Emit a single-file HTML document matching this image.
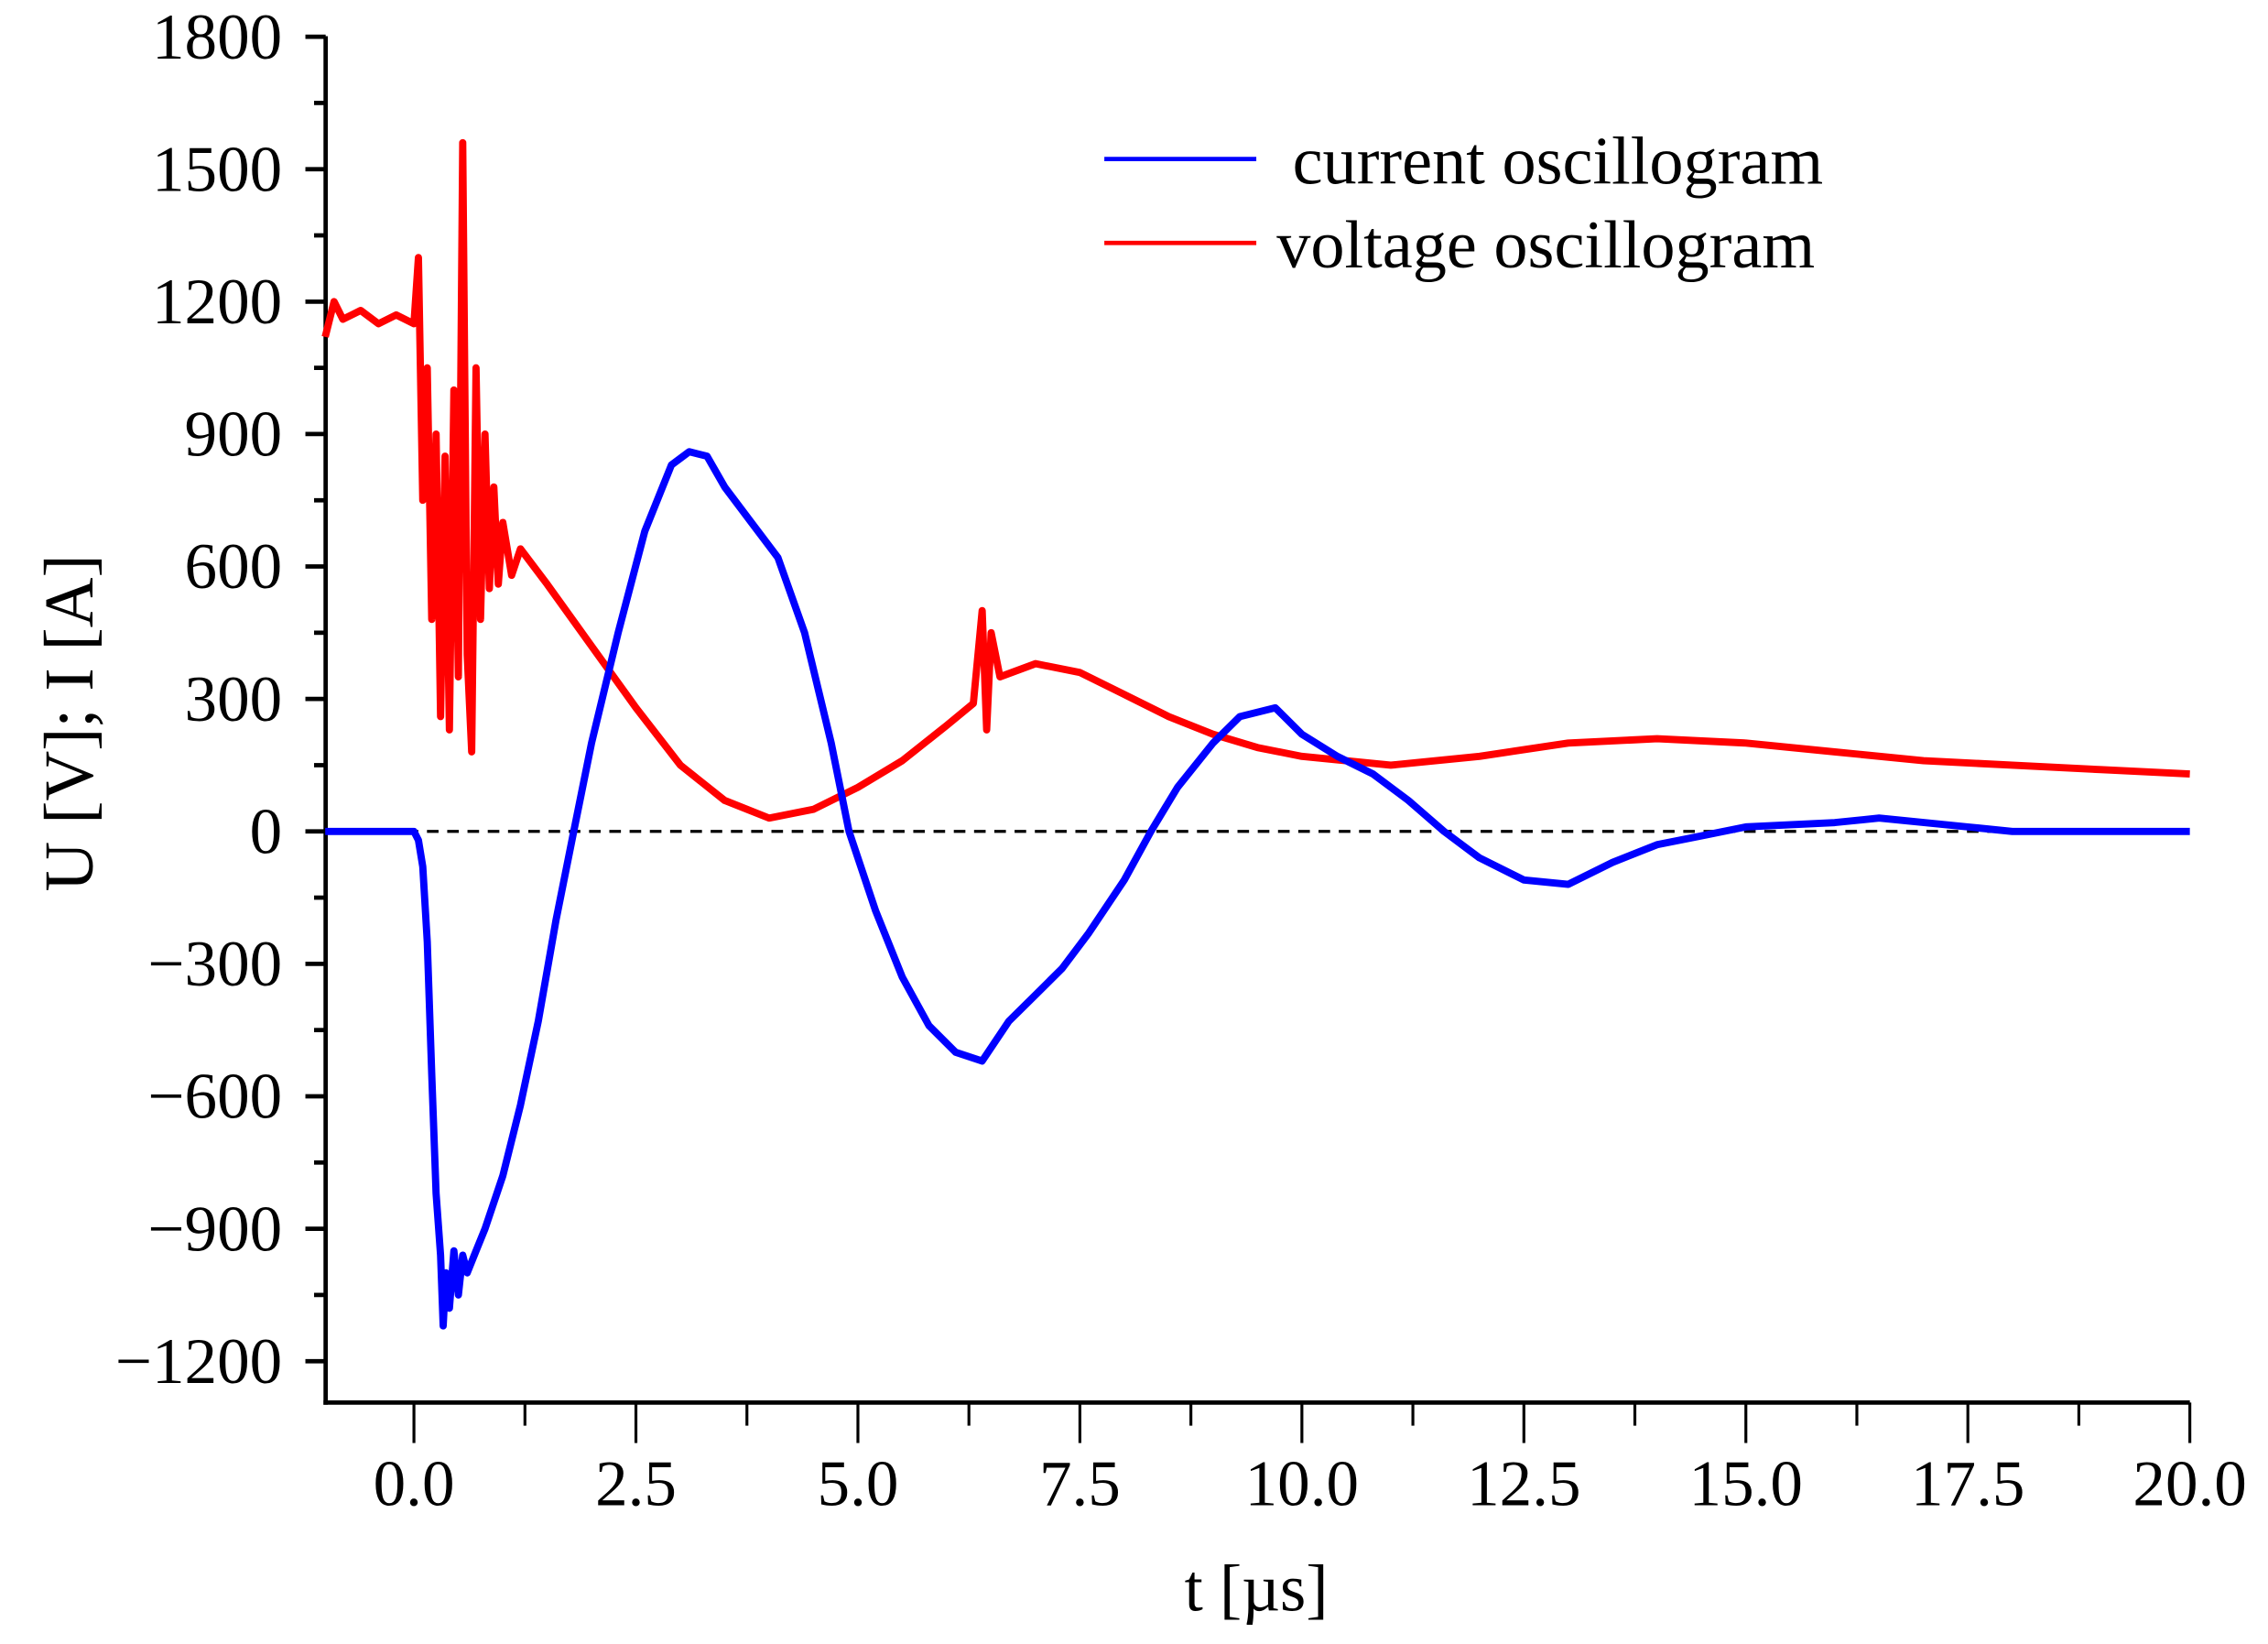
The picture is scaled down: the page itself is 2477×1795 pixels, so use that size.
<!DOCTYPE html>
<html><head><meta charset="utf-8"><style>
html,body{margin:0;padding:0;background:#fff;}
svg{display:block;}
text{font-family:"Liberation Serif",serif;fill:#000;}
</style></head><body>
<svg id="chart" width="2477" height="1795" viewBox="0 0 1567 1137" preserveAspectRatio="none" xmlns="http://www.w3.org/2000/svg">
<g id="axes"></g>
<g id="series"></g>
<g>
<line x1="763" y1="110" x2="868" y2="110" stroke="#0000ff" stroke-width="3"/>
<text x="893" y="127" font-size="47"> current oscillogram</text>
<line x1="763" y1="168" x2="868" y2="168" stroke="#ff0000" stroke-width="3"/>
<text x="882" y="185" font-size="47">voltage oscillogram</text>
</g>
<text x="868" y="1114" font-size="46" text-anchor="middle">t [µs]</text>
<text x="0" y="0" font-size="48" text-anchor="middle" transform="translate(64,500) rotate(-90)">U [V]; I [A]</text>
</svg>
<script>
const xTicks=[0,2.5,5,7.5,10,12.5,15,17.5,20];
const xTickLabels=["0.0","2.5","5.0","7.5","10.0","12.5","15.0","17.5","20.0"];
const yTicks=[-1200,-900,-600,-300,0,300,600,900,1200,1500,1800];
const yTickLabels=["\u22121200","\u2212900","\u2212600","\u2212300","0","300","600","900","1200","1500","1800"];
const currentT=[-1,-0.5,0,0.05,0.1,0.15,0.2,0.25,0.3,0.33,0.36,0.4,0.45,0.5,0.55,0.6,0.7,0.8,1.0,1.2,1.4,1.6,1.8,2.0,2.3,2.6,2.9,3.1,3.3,3.5,3.8,4.1,4.4,4.7,4.9,5.2,5.5,5.8,6.1,6.4,6.7,7.0,7.3,7.6,8.0,8.3,8.6,9.0,9.3,9.7,10.0,10.4,10.8,11.2,11.6,12.0,12.5,13.0,13.5,14.0,14.5,15.0,16.0,16.5,17.5,18,20];
const currentV=[0,0,0,-20,-80,-250,-550,-820,-960,-1120,-1000,-1080,-950,-1050,-960,-1000,-950,-900,-780,-620,-430,-200,0,200,450,680,830,860,850,780,700,620,450,200,0,-180,-330,-440,-500,-520,-430,-370,-310,-230,-110,0,100,200,260,280,220,170,130,70,0,-60,-110,-120,-70,-30,-10,10,20,30,10,0,0];
const voltageT=[-1,-0.9,-0.8,-0.6,-0.4,-0.2,0,0.05,0.1,0.15,0.2,0.25,0.3,0.35,0.4,0.45,0.5,0.55,0.6,0.65,0.7,0.75,0.8,0.85,0.9,0.95,1.0,1.1,1.2,1.5,2.0,2.5,3.0,3.5,4.0,4.5,5.0,5.5,6.0,6.3,6.4,6.45,6.5,6.6,7.0,7.5,8.0,8.5,9.0,9.5,10.0,11.0,12.0,13.0,14.0,15.0,16.0,17.0,18.0,19.0,20.0];
const voltageV=[1120,1200,1160,1180,1150,1170,1150,1300,750,1050,480,900,260,850,230,1000,350,1560,400,180,1050,480,900,550,780,560,700,580,640,560,420,280,150,70,30,50,100,160,240,290,500,230,450,350,380,360,310,260,220,190,170,150,170,200,210,200,180,160,150,140,130];
const NS="http://www.w3.org/2000/svg";
const X0=225,X1=1513,Y0=25,Y1=970;
function xs(t){return 286+(t-0)*(1513-286)/20;}
function ys(v){return 575-v*(941-25)/3000;}
function mk(tag,attrs,parent){const e=document.createElementNS(NS,tag);for(const k in attrs)e.setAttribute(k,attrs[k]);parent.appendChild(e);return e;}
const ax=document.getElementById('axes');
let e;
e=mk('line',{x1:X0,y1:Y0,x2:X0,y2:Y1+1.5,stroke:'#000','stroke-width':3},ax);


e=mk('line',{x1:X0-1.5,y1:Y1,x2:X1,y2:Y1,stroke:'#000','stroke-width':3},ax);


e=mk('line',{x1:X0,y1:ys(0),x2:X1,y2:ys(0),stroke:'#000','stroke-width':2,'stroke-dasharray':'8,6'},ax);


yTicks.forEach((v,i)=>{
  const y=ys(v);
  e=mk('line',{x1:X0-14,y1:y,x2:X0,y2:y,stroke:'#000','stroke-width':3},ax);
  
  
  e=mk('text',{x:X0-30,y:y+15,'font-size':45,'text-anchor':'end'},ax);
  e.textContent=yTickLabels[i];
  
  
  if(i<yTicks.length-1){
    const ym=ys(v+150);
    e=mk('line',{x1:X0-8,y1:ym,x2:X0,y2:ym,stroke:'#000','stroke-width':3},ax);
    
    
  }
});
xTicks.forEach((t,i)=>{
  const x=xs(t);
  e=mk('line',{x1:x,y1:Y1,x2:x,y2:Y1+28,stroke:'#000','stroke-width':2},ax);
  
  
  e=mk('text',{x:x,y:Y1+71,'font-size':45,'text-anchor':'middle'},ax);
  e.textContent=xTickLabels[i];
  
  
  if(i<xTicks.length-1){
    const xm=xs(t+1.25);
    e=mk('line',{x1:xm,y1:Y1,x2:xm,y2:Y1+16,stroke:'#000','stroke-width':2},ax);
    
    
  }
});
const sg=document.getElementById('series');
function path(T,V){return T.map((t,i)=>(i?'L':'M')+xs(t).toFixed(1)+','+ys(V[i]).toFixed(1)).join(' ');}
e=mk('path',{d:path(voltageT,voltageV),fill:'none',stroke:'#ff0000','stroke-width':5,'stroke-linejoin':'round'},sg);


e=mk('path',{d:path(currentT,currentV),fill:'none',stroke:'#0000ff','stroke-width':5,'stroke-linejoin':'round'},sg);


</script>
</body></html>
